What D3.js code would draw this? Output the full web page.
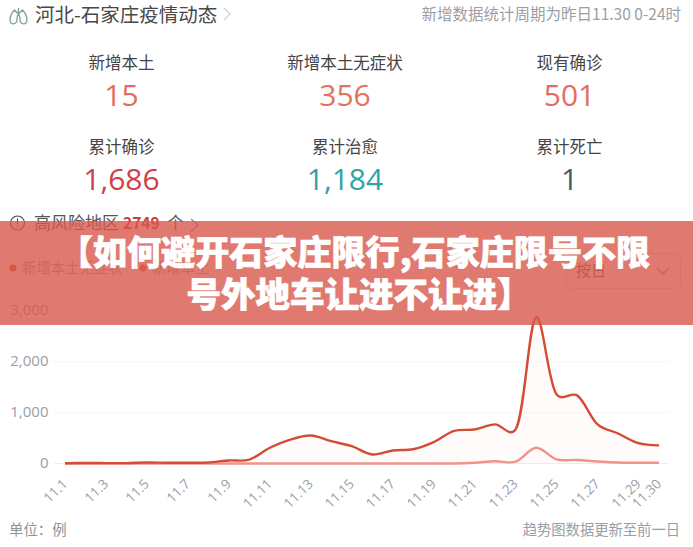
<!DOCTYPE html>
<html><head><meta charset="utf-8">
<script src="https://cdn.jsdelivr.net/npm/d3@7/dist/d3.min.js"></script>
<style>html,body{margin:0;padding:0;background:#fff}svg{display:block}
text{font-family:"Noto Sans CJK SC","Noto Sans",sans-serif}</style></head>
<body><div id="c"></div>
<script>
const days=["11.1","11.2","11.3","11.4","11.5","11.6","11.7","11.8","11.9","11.10","11.11","11.12","11.13","11.14","11.15","11.16","11.17","11.18","11.19","11.20","11.21","11.22","11.23","11.24","11.25","11.26","11.27","11.28","11.29","11.30"];
const tickLabels=["11.1","11.3","11.5","11.7","11.9","11.11","11.13","11.15","11.17","11.19","11.21","11.23","11.25","11.27","11.29","11.30"];
const asymptomatic=[5,10,8,8,20,15,15,20,60,75,310,470,550,440,340,177,256,280,420,640,670,770,670,2880,1360,1340,770,590,400,356];
const local=[0,0,0,0,0,0,0,0,0,0,0,0,0,0,0,0,0,0,0,0,15,45,35,310,80,70,40,20,15,15];
const yTicks=[0,1000,2000,3000];
const stats=[
 ["新增本土","15","#e56b5f"],["新增本土无症状","356","#e2735c"],["现有确诊","501","#e56b5f"],
 ["累计确诊","1,686","#d0404a"],["累计治愈","1,184","#2fa3a8"],["累计死亡","1","#455a64"]];
const title="河北-石家庄疫情动态";
const note="新增数据统计周期为昨日11.30 0-24时";
const bannerLines=["【如何避开石家庄限行,石家庄限号不限","号外地车让进不让进】"];

const W=693,H=547;
const svg=d3.select("#c").append("svg").attr("width",W).attr("height",H);
const txt=(x,y,s,size,fill,anchor="start",weight=400)=>svg.append("text").attr("x",x).attr("y",y).attr("font-size",size).attr("fill",fill).attr("text-anchor",anchor).attr("font-weight",weight).text(s);

// header
const lung=svg.append("g").attr("transform","translate(9.5,7)").attr("fill","none").attr("stroke","#7fa59f").attr("stroke-width",1.4);
lung.append("path").attr("d","M9,1V9M9,7L5,3C2,6 0,11 1,15C2,18 6,17 7,15C8,12 7,9 9,7M9,7L13,3C16,6 18,11 17,15C16,18 12,17 11,15C10,12 11,9 9,7");
txt(35,21.5,title,19.5,"#484848");
svg.append("path").attr("d","M224,8L230,14L224,20").attr("fill","none").attr("stroke","#cfd2d6").attr("stroke-width",1.3);
txt(681,20,note,15.5,"#9a9ea6","end");

// stats
const colX=[121.5,345,569.5];
stats.forEach((d,i)=>{
  const x=colX[i%3],r=i<3?0:1;
  txt(x,[68.5,152.5][r],d[0],16.5,"#444","middle");
  txt(x,[106,190][r],d[1],30,d[2],"middle").style("font-family",'"Open Sans",sans-serif');
});

// risk row
svg.append("circle").attr("cx",17.5).attr("cy",223).attr("r",7).attr("fill","none").attr("stroke","#444").attr("stroke-width",1.1);
svg.append("path").attr("d","M17.5,218.5V224M17.5,225.5V227").attr("stroke","#444").attr("stroke-width",1.1);
txt(34,229,"高风险地区",17,"#555");
txt(123,229,"2749",15.5,"#d0393a","start",700);
txt(167,229,"个",17,"#555");
svg.append("path").attr("d","M191,219L198,225L191,232").attr("fill","none").attr("stroke","#888").attr("stroke-width",1.2);

// legend
svg.append("circle").attr("cx",13).attr("cy",268).attr("r",3.5).attr("fill","#d8402f");
txt(22,273,"新增本土无症状",14.4,"#999");
svg.append("circle").attr("cx",143).attr("cy",268).attr("r",3.5).attr("fill","#e8604f");
txt(152,273,"新增本土",14.4,"#999");
svg.append("rect").attr("x",566.5).attr("y",253.5).attr("width",114).attr("height",35).attr("rx",6).attr("fill","none").attr("stroke","#d9d9d9");
txt(576,276,"按日",15,"#555");
svg.append("path").attr("d","M657,268L663,274L669,268").attr("fill","none").attr("stroke","#888").attr("stroke-width",1.2);

// chart
const x=d3.scalePoint().domain(days).range([65,659]);
const y=d3.scaleLinear().domain([0,3000]).range([463.5,311]);
const grid=svg.append("g");
grid.selectAll("line").data(yTicks).join("line").attr("x1",54).attr("x2",669)
  .attr("y1",d=>y(d)).attr("y2",d=>y(d)).attr("stroke",d=>d?"#f6f6f6":"#eeeeee");
const yAxis=d3.axisLeft(y).tickValues(yTicks).tickSize(0).tickPadding(0).tickFormat(d3.format(","));
svg.append("g").attr("transform","translate(48.5,-1)").call(yAxis).call(g=>g.select(".domain").remove())
  .selectAll("text").attr("font-size",15).attr("fill","#9a9ea6").style("font-family",'"Open Sans",sans-serif');
const xAxis=d3.axisBottom(x).tickValues(tickLabels).tickSize(0).tickPadding(0);
svg.append("g").attr("transform","translate(-3,479)").call(xAxis).call(g=>g.select(".domain").remove())
  .selectAll("text").attr("font-size",13.5).attr("fill","#9a9ea6").style("font-family",'"Open Sans",sans-serif')
  .attr("text-anchor","end").attr("dy",0).attr("dx",0).attr("transform","rotate(-45)").attr("y",8).attr("x",0);
const curve=d3.curveCatmullRom.alpha(0.25);
const line=d3.line().x((d,i)=>x(days[i])).y(d=>y(d)).curve(curve);
const area=d3.area().x((d,i)=>x(days[i])).y0(y(0)).y1(d=>y(d)).curve(curve);
svg.append("path").attr("d",area(asymptomatic)).attr("fill","#e8304a").attr("opacity",.02);
svg.append("path").attr("d",line(local)).attr("fill","none").attr("stroke","#f09488").attr("stroke-width",2.4);
svg.append("path").attr("d",line(asymptomatic)).attr("fill","none").attr("stroke","#d44c35").attr("stroke-width",2.4);

// footer
txt(9,535,"单位：例",14.4,"#8d9297");
txt(680,535,"趋势图数据更新至前一日",14.3,"#9a9ea6","end");

// banner
svg.append("rect").attr("x",0).attr("y",221).attr("width",W).attr("height",104).attr("fill","#d8594c").attr("opacity",.8);
bannerLines.forEach((s,i)=>txt(W/2+[8,12.5][i],[265,307][i],s,[34.1,34.5][i],"#fff","middle",900).attr("stroke","#fff").attr("stroke-width",.7));
</script></body></html>
